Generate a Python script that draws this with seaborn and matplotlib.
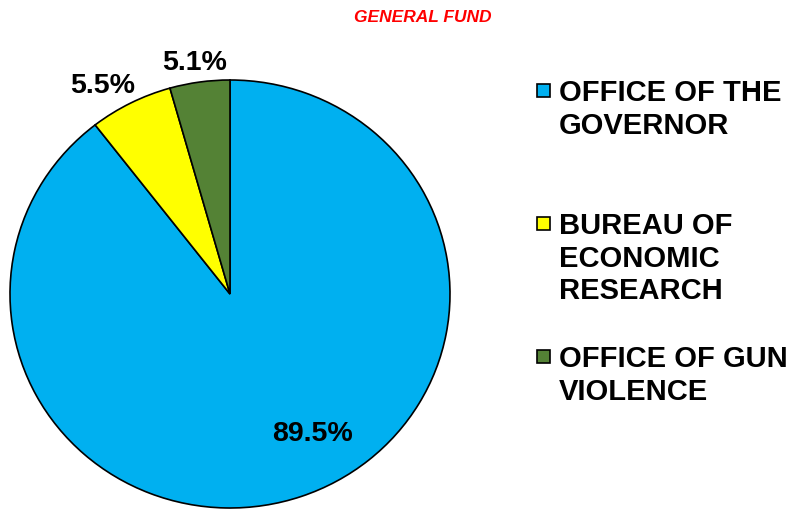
import matplotlib
matplotlib.use("Agg")
import matplotlib.pyplot as plt
import seaborn as sns
from matplotlib.patches import Rectangle

categories = ["OFFICE OF THE\nGOVERNOR", "BUREAU OF\nECONOMIC\nRESEARCH", "OFFICE OF GUN\nVIOLENCE"]
values = [89.5, 6.1, 4.4]
pct_labels = ["89.5%", "5.5%", "5.1%"]
colors = ["#00B0F0", "#FFFF00", "#548235"]
title = "GENERAL FUND"

sns.set_theme(style="white")
plt.rcParams["font.family"] = ["Liberation Sans", "DejaVu Sans"]

fig = plt.figure(figsize=(7.9, 5.1), dpi=100)
W, H = 790, 510
ax = fig.add_axes([10 / W, 1 / H, 440 / W, 428 / H])
wedges, _ = ax.pie(values, colors=colors, startangle=90, counterclock=False,
                   wedgeprops=dict(edgecolor="black", linewidth=1.2))
ax.set_aspect("auto")
ax.set_xlim(-1, 1)
ax.set_ylim(-1, 1)
ax.set_axis_off()

label_pos = [(0.375, -0.65), (-0.58, 0.975), (-0.16, 1.085)]
for (x, y), t in zip(label_pos, pct_labels):
    ax.text(x, y, t, ha="center", va="center", fontsize=20.5, fontweight="bold",
            color="black", clip_on=False)

fig.text(423 / W, 1 - 18 / H, title, ha="center", va="center", color="#FF0000",
         fontsize=12.5, fontweight="bold", fontstyle="italic")

leg_y = [92, 225, 358]
for y, c, lab in zip(leg_y, colors, categories):
    fig.patches.append(Rectangle((537 / W, 1 - (y + 6) / H), 13 / W, 13 / H,
                                 transform=fig.transFigure, facecolor=c,
                                 edgecolor="black", linewidth=1.2))
    fig.text(559 / W, 1 - (y - 13) / H, lab, ha="left", va="top", fontsize=21,
             fontweight="bold", color="black", linespacing=1.21)

fig.savefig("out.png", dpi=100)
